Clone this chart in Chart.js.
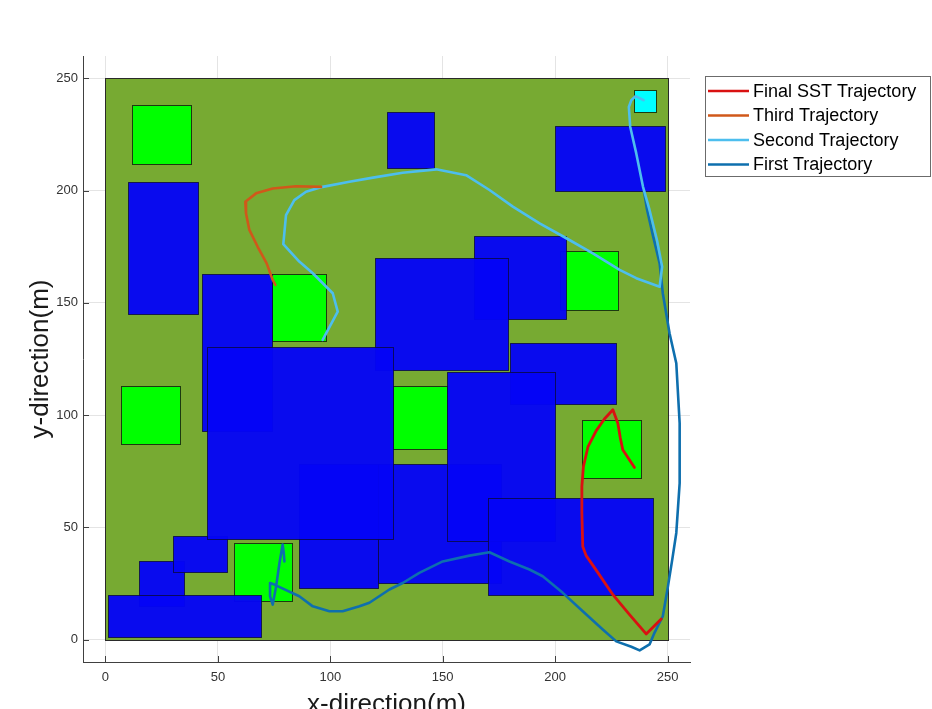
<!DOCTYPE html>
<html>
<head>
<meta charset="utf-8">
<script src="https://cdn.jsdelivr.net/npm/chart.js@4/dist/chart.umd.min.js"></script>
<style>
  html, body { margin: 0; padding: 0; background: #ffffff; }
  #wrap { width: 932px; height: 709px; }
</style>
</head>
<body>
<div id="wrap"><canvas id="c" width="932" height="709"></canvas></div>
<script>
// ---------- DATA ----------
const tickValues = [0, 50, 100, 150, 200, 250];
const seriesNames = ['Final SST Trajectory', 'Third Trajectory', 'Second Trajectory', 'First Trajectory'];

// field and obstacles, each [x0, y0, x1, y1] in metres
const fieldRect = [0, 0, 250, 250];
const goalSquare = [235, 235, 245, 245];
const greenSquares = [
  [12, 212, 38, 238],
  [74, 133, 98, 163],
  [7, 87, 33, 113],
  [57, 17, 83, 43],
  [128, 85, 152, 113],
  [212, 72, 238, 98],
  [202, 147, 228, 173]
];
const blueRects = [
  [15, 15, 35, 35],
  [30, 30, 54, 46],
  [1, 1, 69, 20],
  [10, 145, 41, 204],
  [125, 210, 146, 235],
  [200, 200, 249, 229],
  [164, 143, 205, 180],
  [120, 120, 179, 170],
  [180, 105, 227, 132],
  [43, 93, 74, 163],
  [86, 23, 121, 78],
  [121, 25, 176, 78],
  [45, 45, 128, 130.5],
  [152, 44, 200, 119],
  [170, 20, 243.5, 63]
];

// trajectories
const finalX = [247.2, 243.2, 240.5, 233.1, 225.7, 219.1, 213.8, 212.3, 211.9, 211.9, 212.6, 214.6, 218.3, 222.0, 225.7, 227.9, 229.0, 230.1, 235.3];
const finalY = [9.2, 5.2, 2.5, 11.1, 20.0, 29.7, 37.4, 41.5, 56.4, 68.2, 77.1, 85.8, 93.1, 98.4, 102.4, 96.4, 89.8, 84.6, 76.7];

const thirdX = [95.9, 84.8, 74.4, 67.0, 62.2, 62.5, 64.0, 67.7, 71.7, 74.4, 75.6];
const thirdY = [201.7, 202.0, 201.0, 198.8, 195.1, 189.9, 182.5, 175.0, 167.6, 160.2, 158.0];

const secondX = [96.6, 103.3, 101.1, 92.2, 86.2, 79.1, 80.3, 84.0, 89.2, 96.6, 108.5, 119.0, 132.2, 147.1, 160.4, 170.8, 181.2, 193.1, 205.0, 216.8, 228.7, 236.1, 246.5, 247.6, 245.3, 242.0, 239.1, 236.1, 233.4, 232.8, 233.9, 235.8, 239.4];
const secondY = [133.5, 146.1, 154.3, 163.2, 168.4, 176.2, 189.1, 195.8, 199.5, 201.7, 204.0, 205.8, 208.0, 209.5, 206.9, 200.3, 192.9, 185.4, 178.8, 172.1, 164.7, 161.0, 157.2, 166.1, 178.0, 191.4, 201.7, 216.6, 228.5, 237.3, 240.3, 242.1, 240.3];

const firstX = [239.5, 240.8, 243.5, 246.5, 247.9, 250.9, 253.9, 255.4, 255.4, 253.9, 252.1, 250.2, 247.9, 244.2, 242.0, 237.6, 233.9, 227.2, 221.2, 212.3, 203.4, 194.5, 188.6, 179.7, 170.8, 161.9, 150.0, 139.6, 132.2, 126.3, 117.4, 113.0, 105.5, 99.6, 92.2, 86.2, 75.1, 73.2, 73.2, 74.4, 75.9, 77.4, 78.8, 79.3, 79.6];
const firstY = [200.0, 192.0, 180.0, 167.6, 154.3, 136.5, 123.1, 96.4, 69.7, 47.5, 35.6, 23.7, 10.4, 3.0, -2.2, -4.8, -3.2, -0.8, 4.5, 12.6, 20.8, 28.2, 31.2, 34.8, 38.9, 37.4, 34.8, 29.7, 25.2, 22.3, 16.4, 14.8, 12.6, 12.6, 14.8, 19.3, 24.5, 25.2, 19.3, 15.6, 23.7, 34.1, 42.3, 38.6, 34.8];

// ---------- STYLE ----------
const FONT = 'Arial, "Liberation Sans", Helvetica, sans-serif';
const colors = ['#D91111', '#D0581A', '#4DBEEE', '#0E6FAE'];
const widths = [2.8, 2.6, 2.6, 2.6];

const toPts = (xs, ys) => xs.map((v, i) => ({ x: v, y: ys[i] }));
const seriesData = [toPts(finalX, finalY), toPts(thirdX, thirdY), toPts(secondX, secondY), toPts(firstX, firstY)];

const fieldPlugin = {
  id: 'fieldPlugin',
  beforeDatasetsDraw(chart) {
    const { ctx, chartArea: a, scales: { x, y } } = chart;
    ctx.save();
    ctx.beginPath();
    ctx.rect(a.left, a.top, a.right - a.left, a.bottom - a.top);
    ctx.clip();
    const draw = (r, fill, stroke) => {
      const x0 = Math.round(x.getPixelForValue(r[0])) + 0.5;
      const x1 = Math.round(x.getPixelForValue(r[2])) + 0.5;
      const y0 = Math.round(y.getPixelForValue(r[3])) + 0.5;
      const y1 = Math.round(y.getPixelForValue(r[1])) + 0.5;
      ctx.fillStyle = fill;
      ctx.fillRect(x0, y0, x1 - x0, y1 - y0);
      ctx.strokeStyle = stroke;
      ctx.lineWidth = 1;
      ctx.strokeRect(x0, y0, x1 - x0, y1 - y0);
    };
    draw(fieldRect, 'rgb(119,170,50)', '#2a2a2a');
    greenSquares.forEach(r => draw(r, '#00FF00', '#1c3a10'));
    blueRects.forEach(r => draw(r, 'rgba(4,4,246,0.96)', 'rgba(10,10,60,0.8)'));
    draw(goalSquare, '#00FFFF', '#1c3a10');
    ctx.restore();
  },
  afterDraw(chart) {
    const { ctx, chartArea: a, scales: { x, y } } = chart;
    ctx.save();
    // inward tick marks
    ctx.strokeStyle = '#404040';
    ctx.lineWidth = 1;
    tickValues.forEach(v => {
      const px = Math.round(x.getPixelForValue(v)) + 0.5;
      ctx.beginPath(); ctx.moveTo(px, a.bottom); ctx.lineTo(px, a.bottom - 6); ctx.stroke();
      const py = Math.round(y.getPixelForValue(v)) + 0.5;
      ctx.beginPath(); ctx.moveTo(a.left, py); ctx.lineTo(a.left + 6, py); ctx.stroke();
    });
    // legend
    const bx = 705.5, by = 76.5, bw = 225, bh = 100;
    ctx.fillStyle = '#ffffff';
    ctx.fillRect(bx, by, bw, bh);
    ctx.strokeStyle = '#6b6b6b';
    ctx.strokeRect(bx, by, bw, bh);
    ctx.font = '18px ' + FONT;
    ctx.textBaseline = 'middle';
    ctx.textAlign = 'left';
    chart.data.datasets.forEach((ds, i) => {
      const ly = 91 + i * 24.5;
      ctx.strokeStyle = ds.borderColor;
      ctx.lineWidth = 2.5;
      ctx.beginPath(); ctx.moveTo(708, ly); ctx.lineTo(749, ly); ctx.stroke();
      ctx.fillStyle = '#000000';
      ctx.fillText(ds.label, 753, ly + 1);
    });
    ctx.restore();
  }
};

new Chart(document.getElementById('c'), {
  type: 'scatter',
  data: {
    datasets: seriesNames.map((name, i) => ({
      label: name,
      data: seriesData[i],
      showLine: true,
      borderColor: colors[i],
      backgroundColor: colors[i],
      borderWidth: widths[i],
      pointRadius: 0,
      tension: 0,
      borderJoinStyle: 'round',
      borderCapStyle: 'round'
    }))
  },
  options: {
    responsive: false,
    animation: false,
    layout: { padding: { top: 56, right: 242, left: 0, bottom: 0 } },
    plugins: { legend: { display: false }, tooltip: { enabled: false } },
    scales: {
      x: {
        type: 'linear', min: -10, max: 260,
        afterBuildTicks: s => { s.ticks = tickValues.map(v => ({ value: v })); },
        afterFit: s => { s.height = 47; },
        grid: { color: '#e4e4e4', drawTicks: false },
        border: { color: '#404040', width: 1 },
        ticks: { font: { size: 13, family: FONT }, color: '#333333', padding: 8, maxRotation: 0, autoSkip: false },
        title: { display: true, text: 'x-direction(m)', color: '#1a1a1a', font: { size: 26, family: FONT, lineHeight: 0.35 }, padding: { top: 0, bottom: 0 } }
      },
      y: {
        type: 'linear', min: -10, max: 260,
        afterBuildTicks: s => { s.ticks = tickValues.map(v => ({ value: v })); },
        afterFit: s => { s.width = 83; },
        grid: { color: '#e4e4e4', drawTicks: false },
        border: { color: '#404040', width: 1 },
        ticks: { font: { size: 13, family: FONT }, color: '#333333', padding: 5, autoSkip: false },
        title: { display: true, text: 'y-direction(m)', color: '#1a1a1a', font: { size: 26, family: FONT, lineHeight: 0.5 }, padding: { top: 34.5, bottom: 0 } }
      }
    }
  },
  plugins: [fieldPlugin]
});
</script>
</body>
</html>
